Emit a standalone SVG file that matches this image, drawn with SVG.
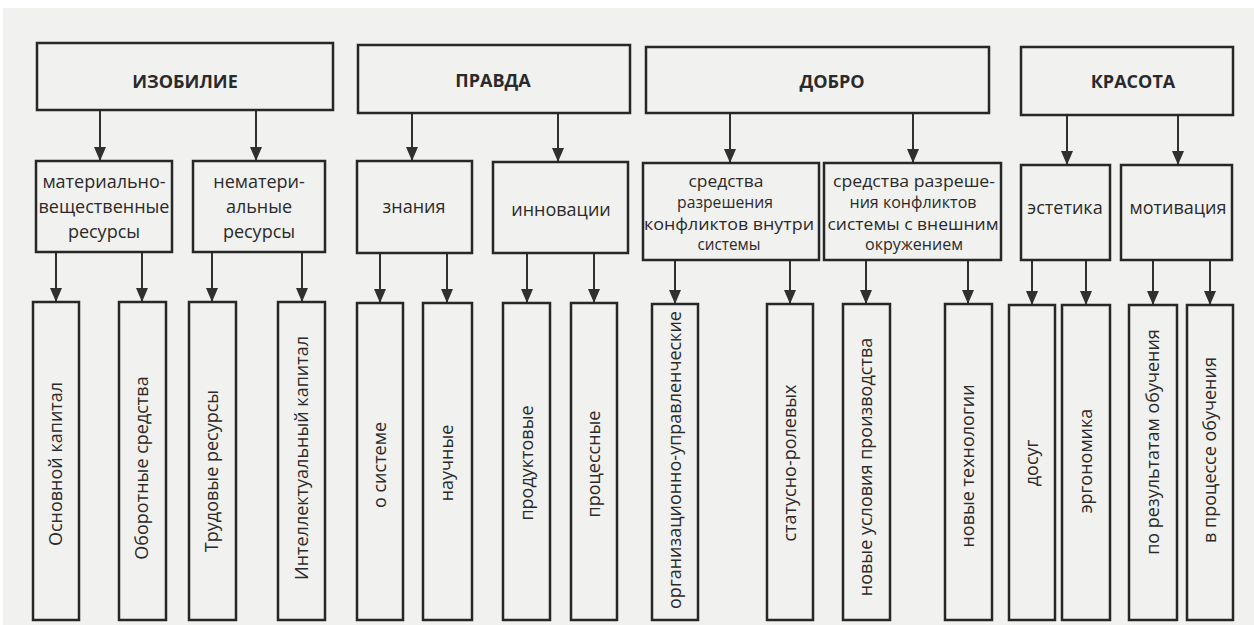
<svg xmlns="http://www.w3.org/2000/svg" width="1254" height="625" viewBox="0 0 1254 625">
<style>
.bg{fill:#f1f1ef}
.box{fill:none;stroke:#272727;stroke-width:2.5}
.t{font-family:"Open Sans","Noto Sans","DejaVu Sans",sans-serif;font-size:18px;fill:#2a2a2a;text-anchor:middle}
.h{font-weight:bold;font-size:18px}
.s{font-size:15.5px}
.c{stroke:#303030;stroke-width:2;fill:none;marker-end:url(#ah)}
</style>
<defs>
<marker id="ah" viewBox="0 0 14 12" markerWidth="14" markerHeight="12" refX="13" refY="6" orient="auto" markerUnits="userSpaceOnUse">
<path d="M0,0 L14,6 L0,12 Z" fill="#303030"/>
</marker>
</defs>
<rect width="1254" height="625" fill="#ffffff"/>
<rect class="bg" x="3" y="8" width="1251" height="617"/>

<g id="connectors">
<line class="c" x1="100" y1="110" x2="100" y2="160"/>
<line class="c" x1="256" y1="110" x2="256" y2="160"/>
<line class="c" x1="412" y1="113" x2="412" y2="160"/>
<line class="c" x1="558" y1="113" x2="558" y2="161"/>
<line class="c" x1="730" y1="113" x2="730" y2="162"/>
<line class="c" x1="913" y1="113" x2="913" y2="162"/>
<line class="c" x1="1067" y1="115" x2="1067" y2="164"/>
<line class="c" x1="1178" y1="115" x2="1178" y2="164"/>

<line class="c" x1="56" y1="252" x2="56" y2="301"/>
<line class="c" x1="142" y1="252" x2="142" y2="301"/>
<line class="c" x1="212" y1="252" x2="212" y2="301"/>
<line class="c" x1="302" y1="252" x2="302" y2="301"/>
<line class="c" x1="380" y1="253" x2="380" y2="302"/>
<line class="c" x1="447" y1="253" x2="447" y2="302"/>
<line class="c" x1="527" y1="253" x2="527" y2="302"/>
<line class="c" x1="594" y1="253" x2="594" y2="302"/>
<line class="c" x1="675" y1="260" x2="675" y2="303"/>
<line class="c" x1="790" y1="260" x2="790" y2="303"/>
<line class="c" x1="866" y1="260" x2="866" y2="303"/>
<line class="c" x1="968" y1="260" x2="968" y2="303"/>
<line class="c" x1="1032" y1="260" x2="1032" y2="304"/>
<line class="c" x1="1086" y1="260" x2="1086" y2="304"/>
<line class="c" x1="1153" y1="260" x2="1153" y2="304"/>
<line class="c" x1="1210" y1="260" x2="1210" y2="304"/>
</g>

<g id="izobilie"><rect class="box" x="37" y="43" width="296" height="67"/><text class="t h" x="185" y="88">ИЗОБИЛИЕ</text></g>
<g id="pravda"><rect class="box" x="358" y="45" width="272" height="68"/><text class="t h" x="493" y="87">ПРАВДА</text></g>
<g id="dobro"><rect class="box" x="646" y="47" width="343" height="66"/><text class="t h" x="832" y="88">ДОБРО</text></g>
<g id="krasota"><rect class="box" x="1021" y="47" width="212" height="68"/><text class="t h" x="1133" y="88">КРАСОТА</text></g>

<g id="mat"><rect class="box" x="36" y="161" width="136" height="91"/>
<text class="t" x="104" y="188">материально-</text><text class="t" x="104" y="213">вещественные</text><text class="t" x="104" y="238">ресурсы</text></g>
<g id="nemat"><rect class="box" x="193" y="161" width="132" height="91"/>
<text class="t" x="259" y="188">нематери-</text><text class="t" x="259" y="213">альные</text><text class="t" x="259" y="238">ресурсы</text></g>
<g id="znaniya"><rect class="box" x="357" y="161" width="115" height="92"/><text class="t" x="414" y="213">знания</text></g>
<g id="innov"><rect class="box" x="493" y="162" width="135" height="91"/><text class="t" x="561" y="216">инновации</text></g>
<g id="vnutri"><rect class="box" x="643" y="163" width="176" height="97"/>
<text class="t s" x="726" y="187" textLength="75" lengthAdjust="spacingAndGlyphs">средства</text>
<text class="t s" x="725" y="208" textLength="96" lengthAdjust="spacingAndGlyphs">разрешения</text>
<text class="t s" x="729" y="230" textLength="170" lengthAdjust="spacingAndGlyphs">конфликтов внутри</text>
<text class="t s" x="729" y="250" textLength="63" lengthAdjust="spacingAndGlyphs">системы</text></g>
<g id="vneshn"><rect class="box" x="824" y="163" width="177" height="97"/>
<text class="t s" x="914" y="187" textLength="162" lengthAdjust="spacingAndGlyphs">средства разреше-</text>
<text class="t s" x="913" y="208" textLength="127" lengthAdjust="spacingAndGlyphs">ния конфликтов</text>
<text class="t s" x="913" y="230" textLength="171" lengthAdjust="spacingAndGlyphs">системы с внешним</text>
<text class="t s" x="914" y="250" textLength="98" lengthAdjust="spacingAndGlyphs">окружением</text></g>
<g id="estetika"><rect class="box" x="1021" y="165" width="89" height="95"/><text class="t" x="1065" y="214">эстетика</text></g>
<g id="motiv"><rect class="box" x="1121" y="165" width="111" height="95"/><text class="t" x="1178" y="214">мотивация</text></g>

<g id="l3-1"><rect class="box" x="33" y="302" width="46" height="318"/><text class="t" transform="translate(56,464) rotate(-90)" y="6">Основной капитал</text></g>
<g id="l3-2"><rect class="box" x="119" y="302" width="47" height="318"/><text class="t" transform="translate(142,468) rotate(-90)" y="6">Оборотные средства</text></g>
<g id="l3-3"><rect class="box" x="189" y="302" width="47" height="318"/><text class="t" transform="translate(212,471) rotate(-90)" y="6">Трудовые ресурсы</text></g>
<g id="l3-4"><rect class="box" x="278" y="302" width="47" height="318"/><text class="t" transform="translate(302,458) rotate(-90)" y="6">Интеллектуальный капитал</text></g>
<g id="l3-5"><rect class="box" x="357" y="303" width="46" height="317"/><text class="t" transform="translate(380,465) rotate(-90)" y="6">о системе</text></g>
<g id="l3-6"><rect class="box" x="423" y="303" width="49" height="317"/><text class="t" transform="translate(447,463) rotate(-90)" y="6">научные</text></g>
<g id="l3-7"><rect class="box" x="503" y="303" width="47" height="317"/><text class="t" transform="translate(527,463) rotate(-90)" y="6">продуктовые</text></g>
<g id="l3-8"><rect class="box" x="571" y="303" width="46" height="317"/><text class="t" transform="translate(594,464) rotate(-90)" y="6">процессные</text></g>
<g id="l3-9"><rect class="box" x="652" y="304" width="46" height="316"/><text class="t" transform="translate(675,460) rotate(-90)" y="6">организационно-управленческие</text></g>
<g id="l3-10"><rect class="box" x="767" y="304" width="46" height="316"/><text class="t" transform="translate(790,463) rotate(-90)" y="6">статусно-ролевых</text></g>
<g id="l3-11"><rect class="box" x="843" y="304" width="47" height="316"/><text class="t" transform="translate(866,467) rotate(-90)" y="6">новые условия производства</text></g>
<g id="l3-12"><rect class="box" x="945" y="304" width="47" height="316"/><text class="t" transform="translate(968,466) rotate(-90)" y="6">новые технологии</text></g>
<g id="l3-13"><rect class="box" x="1009" y="305" width="46" height="315"/><text class="t" transform="translate(1032,463) rotate(-90)" y="6">досуг</text></g>
<g id="l3-14"><rect class="box" x="1062" y="305" width="48" height="315"/><text class="t" transform="translate(1086,461) rotate(-90)" y="6">эргономика</text></g>
<g id="l3-15"><rect class="box" x="1129" y="305" width="48" height="315"/><text class="t" transform="translate(1153,442) rotate(-90)" y="6">по результатам обучения</text></g>
<g id="l3-16"><rect class="box" x="1187" y="305" width="46" height="315"/><text class="t" transform="translate(1210,450) rotate(-90)" y="6">в процессе обучения</text></g>
</svg>
